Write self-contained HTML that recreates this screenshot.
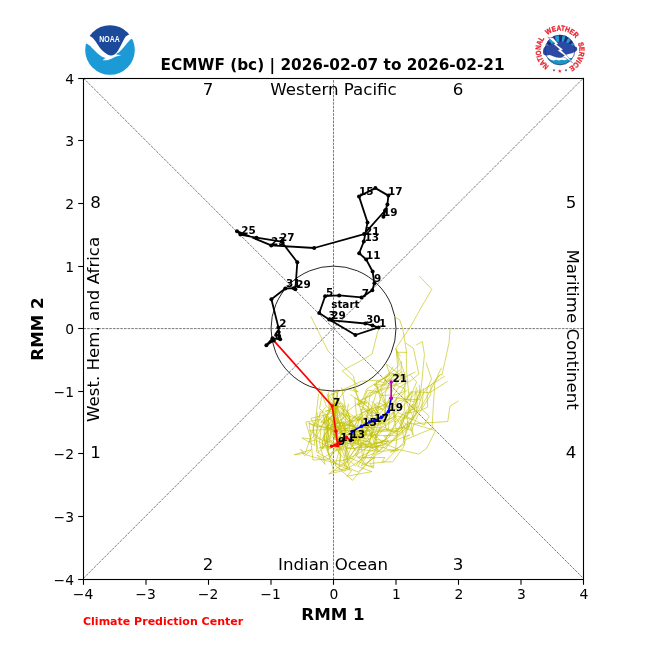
<!DOCTYPE html>
<html lang="en"><head><meta charset="utf-8"><title>ECMWF (bc) RMM phase diagram</title>
<style>html,body{margin:0;padding:0;background:#fff}body{width:650px;height:650px;overflow:hidden}svg{display:block}text{font-family:"DejaVu Sans","Liberation Sans",sans-serif;fill:#000}.b{font-weight:bold}.t10{font-size:13.89px}.t12{font-size:16.67px}.l8{font-size:10.42px;font-weight:bold}</style></head><body>
<svg width="650" height="650" viewBox="0 0 650 650">
<rect width="650" height="650" fill="#fff"/>
<g stroke="#747474" stroke-width="0.95" stroke-dasharray="2.6 1.08" fill="none">
<line x1="83.5" y1="328.6" x2="583.5" y2="328.6"/>
<line x1="333.5" y1="579.5" x2="333.5" y2="78.5"/>
<line x1="83.5" y1="578.3" x2="583.5" y2="78"/>
<line x1="83.5" y1="78.2" x2="583.5" y2="578.5"/>
</g>
<circle cx="333.5" cy="328.6" r="62.5" fill="none" stroke="#000" stroke-width="0.85"/>
<g fill="none" stroke="#bfbf00" stroke-width="0.6" stroke-linejoin="round">
<polyline points="353.48,388.33 364.06,409.02 374.3,419.48 367.41,406.64 360.23,400.21 370.94,395.77 378.52,387.82 374.08,385.24 387.09,376.48 399.34,365.12 395.89,348.2 410.75,326.17 420.37,308.96 431.81,289.31 419.3,276"/>
<polyline points="332.88,402.01 351.3,424.12 359.36,446.15 365.42,445.2 372.21,447.46 382.94,445.22 381.74,441.84 374.76,434.71 361.44,433.08 362.27,416.55 356.58,393.62 353.53,376.14 328.11,351.14 319.43,333.74 310.8,316.2"/>
<polyline points="331.25,403.36 340.21,403.19 326.82,422.91 320.85,422.74 332.45,406.36 346.81,388.84 353.31,390.63 358.21,391.9 354.41,389.09 357.41,384.3 342.15,370.92 363.9,358.98 372.08,354.14 377.4,332.94 378.6,330"/>
<polyline points="335.78,397.04 326.87,417.15 316,437.56 326.25,441.83 328.42,418.75 337.51,422.38 334.72,425.06 331.21,424.48 346.86,422.26 357.97,414.79 361.69,413.57 361.36,411.42 366.5,397 381.98,390.21 403.56,381.9"/>
<polyline points="332.91,404.77 334.68,425.85 322.66,449.03 322.2,440.07 309.7,430.5 329.7,429.15 350.26,430.15 350.32,432.47 370.86,430.58 373.79,421.62 389.83,418.82 394.32,417.42 402.96,405.82 418.09,390.49 416.98,389.81"/>
<polyline points="338.2,403.98 329.76,429.33 331.9,435.32 326.45,442.11 323.84,435.38 332.42,442.26 333.61,442.42 336.85,451.11 348.6,445.13 362.65,442.95 377.03,450.82 375.88,438.22 387.15,424.6 395.43,419.79 393.41,411.75"/>
<polyline points="321.37,425.62 319.47,442.73 325.12,464.42 316.99,455.03 322.91,458.01 332.67,451.92 348.96,442.95 356.71,442.96 371.37,423.76 395.29,411.36 406.3,416.34 424.14,424.99 429.2,416.12 421.57,409.15 423.81,387.93"/>
<polyline points="346.25,409.22 361.44,443.59 356.88,453.31 355.38,454.38 367.17,465.59 373.03,466.53 369.56,463.56 384.57,462.03 403.18,443.05 408.02,422.53 413.36,424 423.65,423.02 447.78,421.52 449.96,406.27 458.51,400.85"/>
<polyline points="322.39,411.12 327.22,431.25 322.24,438.63 325.62,441.14 337.79,444.65 354.8,439.72 369.07,441.96 378.82,450.78 374.08,443.17 383.46,443.17 398.13,449.31 418.73,454.06 426.69,448.2 435.6,430.54 413.42,424.01"/>
<polyline points="338.08,390.67 332.74,424.28 345.83,433.6 344.99,427.83 346.41,424.15 356.97,427.87 349.28,424 359.41,416.16 365.36,428.14 366.79,419.28 378.78,425.4 378.63,420.74 389.57,413.08 382.1,393.91 389.39,387.43"/>
<polyline points="322.59,391.8 319.53,408.59 326.06,414.37 328.8,437.36 326.11,425.89 322.3,444.35 334.77,439.33 345.29,441.17 356.86,436.49 350.69,440.62 372.44,427.67 380.53,423.94 396.15,415.22 389.39,406.5 381.58,400.71"/>
<polyline points="350.21,394.44 369.86,408.3 365.56,423.71 356.43,415.63 354.91,397.75 360.14,401.13 367.06,402.82 357.18,404.6 366.28,400.86 365.4,399.44 364.45,400.07 368.99,392.83 377.77,391.62 392.91,377.13 402.54,371.43"/>
<polyline points="337.53,392.66 337.13,424.53 337.13,440.87 336.24,425.22 337.44,426.1 360.03,419.75 342.45,413.75 348.87,421.7 353.18,420.26 366.84,417.07 370.21,393.75 374.7,389.21 386.87,382.91 394.74,373.97 400.09,370"/>
<polyline points="341.65,387.3 345.4,408.19 334.2,424.32 339.89,422.26 353.5,426.48 362.44,416.07 361.01,409.24 371.84,411.07 375.27,413.95 377.9,405.81 380.39,399.65 376.14,381.63 393.88,373.7 386.51,380.54 396.93,378.59"/>
<polyline points="328.29,391.47 329.03,407.64 325.86,422.29 333.72,436.02 338.12,440.62 345.59,445.79 349.49,456.94 356.85,446.89 373.24,447.38 361.52,426.59 381.88,427.96 383.32,426.76 397.27,434.05 393.48,416.72 396.71,397.62"/>
<polyline points="326.42,414.41 344.64,436.43 353.54,440.35 347.57,434.26 357.8,434.15 353.18,443.38 365.71,435.02 389.58,435.69 396.17,420.84 395.11,422.02 405.23,412.48 407.87,413.26 412.78,390.85 416.62,382.06 409.45,374.16"/>
<polyline points="335.89,408.19 333.05,415.41 334.39,438.04 338.73,428.25 341.06,422.25 353.25,437.48 369.52,442.04 375.73,420.68 381.13,395.56 395.28,394.99 404.6,391.35 404.61,388.32 395.41,384.99 401.29,377 395.09,376.1"/>
<polyline points="328.24,398.27 338.02,411.81 345.72,416.06 333.49,424.32 328.66,430.42 337.19,417.7 332.76,429.68 346.53,434.48 359.75,434.22 363.91,429.98 372.05,432.48 370.82,436.86 369.01,429.65 365.55,427.87 369.63,430.35"/>
<polyline points="330.14,404.43 334.61,411.09 340.6,425.63 363.52,426.13 368.57,409.95 357.92,405.09 362.35,400.2 366.73,388.9 389.71,374.47 386.48,364.25 402.56,376.67 397.14,374.14 397.55,364.8 396.3,352.25 407.14,352.4"/>
<polyline points="335.17,422.39 340.77,432.75 338.83,452.6 348.05,463.22 346.52,447.92 378.34,451.4 398.63,450.12 390.37,452.19 404.78,443.86 400.45,420.08 408.73,413.9 420.49,395.12 424.45,354.5 422.34,341.5 416.24,345.09"/>
<polyline points="338.66,399.68 349.44,415.95 349.67,430.05 350.73,436.06 366.42,438.99 372.07,432.54 388.55,429.18 389.66,408.11 399.74,400.5 407.31,399.29 411.79,392.06 404.59,401.67 405.22,379.93 400.93,370.74 401.48,361.23"/>
<polyline points="320.37,410.81 317.48,428.5 315.24,435.92 318.51,452.37 333.41,435.78 342.11,426.5 346.37,428.95 354.91,415.61 358.32,419.96 376.97,402.8 385.41,404.9 376.02,385.43 374.15,384.65 394.27,385.28 389.84,378.93"/>
<polyline points="342.96,404.97 343.93,418.15 332.14,426.65 337.63,434.21 342.91,430.41 354.38,431.03 358.6,432.43 376.34,437.68 369.51,422.46 368.22,418.82 365.56,414.8 373.52,421.71 371.09,408.98 376.94,391.05 388.82,386.26"/>
<polyline points="338.24,401.89 357.7,432.32 366.3,432.51 370.63,417.55 372.79,409.72 376.99,413.15 369.17,413.05 385.02,404.36 385.61,405.85 390.98,399.74 398.32,387.71 411.34,380.15 418.9,374.11 413.43,348.38 405.48,342.86"/>
<polyline points="328.94,401 333.73,407.2 334.85,420.08 339.45,422.36 337.26,432.07 338.02,433.78 351.27,425.99 347.62,411.19 364.75,397.68 367.27,390.04 376.46,391.48 382.72,395.7 380.6,388.18 387.46,375.78 393.07,366.71"/>
<polyline points="328.72,416.58 327.25,449.09 333.52,470.9 348.58,468.06 364.41,457.7 384.88,457.45 382.06,461.92 392.54,461.92 403.43,447.28 405.76,439.33 408.61,438.47 432.04,428.5 433.09,409.37 434.85,382.53 439.25,374.99"/>
<polyline points="318.58,393.65 315.34,422.28 305.4,453.12 294.11,454.8 311.35,449.67 304.61,455.89 300.5,448.98 306.09,454.86 340.96,464.8 358.21,472.03 376.66,454.7 383.26,451.37 408.75,420.58 416.16,414.42 417.65,395.91"/>
<polyline points="335.2,409.44 324.01,437.68 325.97,446.91 339.46,446.51 343.95,435.93 358.52,444.92 374.33,444.31 374.26,438.52 381.17,427.83 397.36,416.09 412.98,419.6 418.16,411 424.09,401.86 434.42,382.84 441.42,367.81"/>
<polyline points="340.86,408.22 359.4,432.64 371.73,444.92 361.34,465.94 374.74,457.74 357.69,457.68 375.88,448.97 371.56,435.18 378.62,442.35 395.75,440.21 409.82,434.79 403.59,439.49 413.54,414.26 417.3,397.53 416.35,392.94"/>
<polyline points="325.24,414.38 313.14,426.15 314.84,445.51 301.92,437.99 310.62,438.85 305.77,422.04 320.07,419.55 331.31,429.52 337.14,438.4 344.3,445.48 357.52,427.84 371.3,427.13 371.31,435.25 369.82,433.37 374.14,432.16"/>
<polyline points="324.14,417.5 324.08,437.88 327.26,450.96 329.89,447.94 319.43,447.77 337.63,442.15 342.09,437.08 360.33,429.78 361.92,419.11 362.37,421.53 368.66,415.53 379.3,415.41 374.05,404.79 383.04,410.09 371.42,401.3"/>
<polyline points="332.94,420.98 327.3,451.93 336,464.52 334.04,461.02 344.11,460.29 357.3,454.39 369.73,445.69 384.95,440.58 387.36,435.7 411.02,422.29 413.27,435.5 409.13,425.52 417.64,409.51 422.3,394.84 429.48,385.37"/>
<polyline points="309.1,422.13 311.33,445.13 312.94,460.01 329.31,459.07 339.24,438.92 343.52,437.54 341.07,444.93 350.03,437.27 352.65,439.65 363.46,434.76 366.34,434.17 364.74,431.45 371.6,424.37 386.44,405.58 383.08,406.81"/>
<polyline points="317.3,412.3 316.46,451.81 339.68,465.89 351.63,470.64 346.95,476.24 371.94,471.66 357.58,466.31 371.3,448.3 391.32,441.93 405.03,428.3 401.21,420.53 406.03,417.89 409.65,410.25 420.59,391.43 444.89,376.17"/>
<polyline points="333.25,399.19 339.23,422.56 341.27,429.97 355.57,450.45 343.04,434.47 339.78,428.25 344.54,428.58 347.68,432.99 357.4,435.66 367.96,426.08 374.82,430.17 387.4,429.67 408.86,426.91 403.4,421.89 404.7,415.23"/>
<polyline points="336.23,413.17 334.05,421.37 340.85,449.91 340.06,461.38 347.38,467.19 343.52,459.48 344.49,465.79 355.31,448.45 379.96,431.51 395.79,430.65 402.26,424.41 406.19,411.33 413.06,403.88 413.13,410.16 420.56,389.47"/>
<polyline points="348.54,403.71 344.14,427.2 347.79,444.48 344.63,456.06 355.61,465.9 362.67,457.06 365.22,447.88 365.63,444.39 367.21,448.01 374.77,427.39 377.91,410.17 384.61,407.64 388.72,405.97 400.62,395.97 407.19,390"/>
<polyline points="337.91,409.04 345.27,433.4 346,455.6 351.97,459.08 361.12,444.96 362.6,457.74 378.16,451.74 388.02,440.87 383.74,435.85 398.18,435.09 406.05,428.35 413.56,418.22 405.07,399.38 420.04,399.76 419.24,384.74"/>
<polyline points="325.48,406.97 313.16,424.6 314.01,435.95 308.92,441.87 315.66,439.88 331.11,448.64 333.21,444.75 358.48,442.68 359.41,434.68 354.15,442.54 362.57,432.67 363.34,423.89 385.54,420.05 385.05,405.13 391.3,400.7"/>
<polyline points="335.53,412.97 333.84,434.89 339.82,443.04 345.53,460.21 354.73,440.15 364.65,443.54 374.94,433.98 379.53,420.42 387.37,415.06 396.95,397.38 400.39,393.16 405.26,384.35 405.65,376.6 395.74,348.61 400.48,356.37"/>
<polyline points="331.83,392.61 335.24,408.39 330.5,408.01 329.17,412.77 338.52,407.48 325.22,411.31 336.63,407.63 329.07,395.56 344.89,388.78 361.4,381.22 376.77,380.24 385.14,383.28 385.02,376.24 389.51,372.72 396.61,374.29"/>
<polyline points="319.29,386.88 326.52,406.56 339.81,414.53 326.48,426.32 344.06,421.62 341.35,428.04 353.41,428.46 360.4,413.97 376.25,406.83 375.57,408.72 383.87,419.9 386.83,430.54 399.64,431.55 402.71,428.15 393.04,412.77"/>
<polyline points="339.05,398.53 332.24,416.14 318.72,427.58 308.75,423.25 315.39,425.36 332.82,429.75 337.04,438.16 357.1,426.74 361.62,412.75 371.2,409.02 383.23,405.45 393.25,397.29 407.16,399.6 414.05,402.02 416.49,387.28"/>
<polyline points="327.02,393.55 330.35,408.55 337.81,406.28 344.62,410.36 365.23,424.1 371.43,424.52 382.67,423.13 384.44,424.46 397.78,406.79 408.78,394.62 406.51,370.49 406.29,350.15 402.91,329.75 399.68,319.71 394.13,316.88"/>
<polyline points="342.29,419.09 333.36,441.54 340.39,455.04 338.99,468.61 352.53,480.32 369.27,460.7 374.77,450.83 385.53,438.47 391.91,429.66 399.27,419.7 404.36,410.56 404.49,403.5 410.41,391.79 429.82,392.64 447.62,381.28"/>
<polyline points="334.62,427.6 344.77,451.58 349.93,469.09 328.72,473.96 337.01,468.21 350.98,458.27 373.57,468.15 373.9,454.18 374.97,454.61 383.55,447.26 387.72,449.59 395.51,450.01 397.44,432.08 405.68,412.86 418.27,406.56"/>
<polyline points="333.97,391.24 334.75,424.65 325.99,433.5 329.36,457.32 338.89,447.21 341.42,450.19 362.85,442.63 368.48,426.76 364.3,436.05 361.35,426.6 380.42,422.51 373.96,417.43 385.17,415.15 385.24,393.05 390.63,380.94"/>
<polyline points="329.84,409.77 340.1,424.3 340.07,447.23 335.24,465.01 336.06,466.68 344.84,471.27 350.52,461.98 355.9,456.96 362.16,444.28 388.88,441.37 375.89,439.39 383.95,414.04 388.34,400.66 396.55,381.22 415.46,371.82"/>
<polyline points="366.62,400.9 383.81,422.8 375.49,435.16 375.89,444.11 386.18,439.29 400.29,428.02 401.74,427.27 411.5,430.34 417.47,415.92 430.71,394.68 431.02,385.04 440.78,374.11 441.85,375.41 449.05,342.71 450.22,327.93"/>
<polyline points="337.21,388.97 335.24,417.05 323.49,421.71 325.77,416.17 328.58,418.73 336.79,412.18 310.96,418.27 313,422.71 324.46,427.61 335.24,427.98 349.4,424.33 342.26,417.09 336.23,406.25 346.08,407.03 341.28,402.61"/>
<polyline points="325.59,416.38 331.61,428.34 336.85,442.16 347.8,448.75 360.82,447.31 380.25,445.41 375.7,446.79 384.22,447.54 408.18,428.7 406.71,413.22 419.57,410.78 427.66,407.14 426.9,389.23 431.55,379.02 425.99,362.43"/>
</g>
<polyline points="273.8,340.6 332.2,406 335.8,431.2 337.7,445.8 331.5,446.2 339.4,442.5 346.5,437.3 350.8,440.4" fill="none" stroke="#ff0000" stroke-width="1.65" stroke-linejoin="round"/>
<circle cx="332.2" cy="406" r="1.75" fill="#ff0000"/>
<circle cx="335.8" cy="431.2" r="1.75" fill="#ff0000"/>
<circle cx="337.7" cy="445.8" r="1.75" fill="#ff0000"/>
<circle cx="331.5" cy="446.2" r="1.75" fill="#ff0000"/>
<circle cx="339.4" cy="442.5" r="1.75" fill="#ff0000"/>
<circle cx="346.5" cy="437.3" r="1.75" fill="#ff0000"/>
<circle cx="350.8" cy="440.4" r="1.75" fill="#ff0000"/>
<polyline points="350.8,440.4 352,431.5 361.5,426.2 369.6,421.9 375,420.3 381.5,417.3 388.5,411.5 391.2,398.2" fill="none" stroke="#0000ff" stroke-width="1.65" stroke-linejoin="round"/>
<circle cx="350.8" cy="440.4" r="1.75" fill="#0000ff"/>
<circle cx="352" cy="431.5" r="1.75" fill="#0000ff"/>
<circle cx="361.5" cy="426.2" r="1.75" fill="#0000ff"/>
<circle cx="369.6" cy="421.9" r="1.75" fill="#0000ff"/>
<circle cx="375" cy="420.3" r="1.75" fill="#0000ff"/>
<circle cx="381.5" cy="417.3" r="1.75" fill="#0000ff"/>
<circle cx="388.5" cy="411.5" r="1.75" fill="#0000ff"/>
<circle cx="391.2" cy="398.2" r="1.75" fill="#0000ff"/>
<polyline points="391.2,398.2 391.2,382" fill="none" stroke="#bf00bf" stroke-width="1.65" stroke-linejoin="round"/>
<circle cx="391.2" cy="398.2" r="1.75" fill="#bf00bf"/>
<circle cx="391.2" cy="382" r="1.75" fill="#bf00bf"/>
<g fill="none" stroke="#000" stroke-width="1.8" stroke-linejoin="round" stroke-linecap="butt">
<polyline points="332,320.3 365.4,323.5 372.5,325.6 378.5,327.4 355.4,335 329.2,319.5 319.2,313.1 325.1,296.2 339.2,295.4 361.5,297.4 372.3,290.3 374.4,283.3 372.6,271.5 366.2,259.5 359.2,253.2 363.8,241.6 367.5,222.4 359,196.4 375.4,188.1 388.4,195.6 387.4,204.4 383.4,216.7 385.1,210.5 364.1,234.1 314.2,248 271.2,245.4 237,231.2 240.4,234.6 256.5,237.7 281.6,241.7 297.3,262.3 295.4,289.3 293.8,288.2 285.3,288.5 271.4,299.3 278.4,327.4 280.2,339.3 272.5,338.3 266.4,345.2 273.8,340.6"/>
</g>
<g fill="#000">
<circle cx="332" cy="320.3" r="2"/>
<circle cx="365.4" cy="323.5" r="2"/>
<circle cx="372.5" cy="325.6" r="2"/>
<circle cx="378.5" cy="327.4" r="2"/>
<circle cx="355.4" cy="335" r="2"/>
<circle cx="329.2" cy="319.5" r="2"/>
<circle cx="319.2" cy="313.1" r="2"/>
<circle cx="325.1" cy="296.2" r="2"/>
<circle cx="339.2" cy="295.4" r="2"/>
<circle cx="361.5" cy="297.4" r="2"/>
<circle cx="372.3" cy="290.3" r="2"/>
<circle cx="374.4" cy="283.3" r="2"/>
<circle cx="372.6" cy="271.5" r="2"/>
<circle cx="366.2" cy="259.5" r="2"/>
<circle cx="359.2" cy="253.2" r="2"/>
<circle cx="363.8" cy="241.6" r="2"/>
<circle cx="367.5" cy="222.4" r="2"/>
<circle cx="359" cy="196.4" r="2"/>
<circle cx="375.4" cy="188.1" r="2"/>
<circle cx="388.4" cy="195.6" r="2"/>
<circle cx="387.4" cy="204.4" r="2"/>
<circle cx="383.4" cy="216.7" r="2"/>
<circle cx="385.1" cy="210.5" r="2"/>
<circle cx="364.1" cy="234.1" r="2"/>
<circle cx="314.2" cy="248" r="2"/>
<circle cx="271.2" cy="245.4" r="2"/>
<circle cx="237" cy="231.2" r="2"/>
<circle cx="240.4" cy="234.6" r="2"/>
<circle cx="256.5" cy="237.7" r="2"/>
<circle cx="281.6" cy="241.7" r="2"/>
<circle cx="297.3" cy="262.3" r="2"/>
<circle cx="295.4" cy="289.3" r="2"/>
<circle cx="293.8" cy="288.2" r="2"/>
<circle cx="285.3" cy="288.5" r="2"/>
<circle cx="271.4" cy="299.3" r="2"/>
<circle cx="278.4" cy="327.4" r="2"/>
<circle cx="280.2" cy="339.3" r="2"/>
<circle cx="272.5" cy="338.3" r="2"/>
<circle cx="266.4" cy="345.2" r="2"/>
<circle cx="273.8" cy="340.6" r="2"/>
</g>
<g class="l8">
<text x="331.3" y="319.2">29</text>
<text x="365.9" y="322.7">30</text>
<text x="379" y="326.8">1</text>
<text x="328.6" y="319">3</text>
<text x="325.9" y="296">5</text>
<text x="361.7" y="297.1">7</text>
<text x="374.1" y="282.2">9</text>
<text x="365.9" y="258.7">11</text>
<text x="364.6" y="241">13</text>
<text x="359" y="194.8">15</text>
<text x="388.1" y="194.5">17</text>
<text x="383.1" y="215.6">19</text>
<text x="364.9" y="234.9">21</text>
<text x="271" y="244.6">23</text>
<text x="241.2" y="233.8">25</text>
<text x="280" y="240.9">27</text>
<text x="296.2" y="287.5">29</text>
<text x="286.1" y="286.9">31</text>
<text x="279.2" y="326.6">2</text>
<text x="273.8" y="337.5">4</text>
<text x="274.6" y="339.2">6</text>
<text x="331.2" y="307.8">start</text>
<text x="333" y="406.1">7</text>
<text x="337.9" y="444.7">9</text>
<text x="340.2" y="440.9">11</text>
<text x="350.6" y="438.2">13</text>
<text x="362.3" y="425.8">15</text>
<text x="374.2" y="422">17</text>
<text x="388.5" y="410.7">19</text>
<text x="392.4" y="382.2">21</text>
</g>
<rect x="83.5" y="78.5" width="500" height="501" fill="none" stroke="#000" stroke-width="1.1"/>
<g stroke="#000" stroke-width="1.1">
<line x1="83.5" y1="579.5" x2="83.5" y2="584.8"/>
<line x1="83.5" y1="579.5" x2="78.2" y2="579.5"/>
<line x1="146" y1="579.5" x2="146" y2="584.8"/>
<line x1="83.5" y1="516.5" x2="78.2" y2="516.5"/>
<line x1="208.5" y1="579.5" x2="208.5" y2="584.8"/>
<line x1="83.5" y1="453.5" x2="78.2" y2="453.5"/>
<line x1="271" y1="579.5" x2="271" y2="584.8"/>
<line x1="83.5" y1="391.5" x2="78.2" y2="391.5"/>
<line x1="333.5" y1="579.5" x2="333.5" y2="584.8"/>
<line x1="83.5" y1="328.5" x2="78.2" y2="328.5"/>
<line x1="396" y1="579.5" x2="396" y2="584.8"/>
<line x1="83.5" y1="266.5" x2="78.2" y2="266.5"/>
<line x1="458.5" y1="579.5" x2="458.5" y2="584.8"/>
<line x1="83.5" y1="203.5" x2="78.2" y2="203.5"/>
<line x1="521" y1="579.5" x2="521" y2="584.8"/>
<line x1="83.5" y1="140.5" x2="78.2" y2="140.5"/>
<line x1="583.5" y1="579.5" x2="583.5" y2="584.8"/>
<line x1="83.5" y1="78.5" x2="78.2" y2="78.5"/>
</g>
<g class="t10">
<text x="83.1" y="598.7" text-anchor="middle">−4</text>
<text x="74" y="584.7" text-anchor="end">−4</text>
<text x="145.6" y="598.7" text-anchor="middle">−3</text>
<text x="74" y="521.7" text-anchor="end">−3</text>
<text x="208.1" y="598.7" text-anchor="middle">−2</text>
<text x="74" y="458.7" text-anchor="end">−2</text>
<text x="270.6" y="598.7" text-anchor="middle">−1</text>
<text x="74" y="396.7" text-anchor="end">−1</text>
<text x="334" y="598.7" text-anchor="middle">0</text>
<text x="74" y="333.7" text-anchor="end">0</text>
<text x="396.5" y="598.7" text-anchor="middle">1</text>
<text x="74" y="271.7" text-anchor="end">1</text>
<text x="459" y="598.7" text-anchor="middle">2</text>
<text x="74" y="208.7" text-anchor="end">2</text>
<text x="521.5" y="598.7" text-anchor="middle">3</text>
<text x="74" y="145.7" text-anchor="end">3</text>
<text x="584" y="598.7" text-anchor="middle">4</text>
<text x="74" y="83.7" text-anchor="end">4</text>
</g>
<text class="b t12" x="333" y="620" text-anchor="middle">RMM 1</text>
<text class="b t12" transform="translate(42.8 329) rotate(-90)" text-anchor="middle">RMM 2</text>
<text class="b" x="332.6" y="70" text-anchor="middle" font-size="15.31">ECMWF (bc) | 2026-02-07 to 2026-02-21</text>
<text class="b" x="83" y="624.7" font-size="11.03" style="fill:#ff0000">Climate Prediction Center</text>
<g class="t12" text-anchor="middle">
<text x="208" y="95">7</text>
<text x="458" y="95">6</text>
<text x="95.5" y="208">8</text>
<text x="571" y="208">5</text>
<text x="95.5" y="458">1</text>
<text x="571" y="458">4</text>
<text x="208" y="570">2</text>
<text x="458" y="570">3</text>
<text x="333.5" y="95">Western Pacific</text>
<text x="333" y="570">Indian Ocean</text>
<text transform="translate(99.2 329.4) rotate(-90)">West. Hem. and Africa</text>
<text transform="translate(566.6 329.7) rotate(90)">Maritime Continent</text>
</g>
<g id="noaa">
<clipPath id="nc"><circle cx="110" cy="50" r="24.8"/></clipPath>
<path d="M84 31.5C85 32.25 88.53 34.92 90 36C91.47 37.08 91.8 37 92.8 38C93.8 39 94.8 40.33 96 42C97.2 43.67 98.67 46.33 100 48C101.33 49.67 102.67 50.87 104 52C105.33 53.13 106.8 54.23 108 54.8C109.2 55.37 110.13 55.47 111.2 55.4C112.27 55.33 113.33 55.1 114.4 54.4C115.47 53.7 116.53 52.67 117.6 51.2C118.67 49.73 119.73 47.6 120.8 45.6C121.87 43.6 123.07 40.8 124 39.2C124.93 37.6 125.53 36.8 126.4 36C127.27 35.2 127.6 35.23 129.2 34.4C130.8 33.57 134.87 31.57 136 31L140 20L80 20Z" fill="#1a4a99" clip-path="url(#nc)"/>
<path d="M80 40.5C81.03 41.02 84.6 42.75 86.2 43.6C87.8 44.45 88.37 44.6 89.6 45.6C90.83 46.6 92.27 48.27 93.6 49.6C94.93 50.93 96.27 52.47 97.6 53.6C98.93 54.73 100.27 55.7 101.6 56.4C102.93 57.1 104.93 57.57 105.6 57.8L102.6 60.3C103.5 60.25 106.43 60.28 108 60C109.57 59.72 110.67 59.17 112 58.6C113.33 58.03 114.4 57.2 116 56.6C117.6 56 120.67 55.27 121.6 55L117.6 54.7L116 54.2C116.53 53.83 118.13 52.9 119.2 52C120.27 51.1 121.2 50.13 122.4 48.8C123.6 47.47 125.2 45.4 126.4 44C127.6 42.6 128.7 41.27 129.6 40.4C130.5 39.53 130.4 39.7 131.8 38.8C133.2 37.9 136.97 35.63 138 35L140 80L80 80Z" fill="#1b9ad6" clip-path="url(#nc)"/>
<text x="109.5" y="42.1" text-anchor="middle" textLength="20.4" lengthAdjust="spacingAndGlyphs" style="font-family:'Liberation Sans',sans-serif;font-weight:bold;font-size:8.6px;fill:#fff">NOAA</text>
</g>
<g id="nws">
<clipPath id="wc"><circle cx="560" cy="50" r="14.9"/></clipPath>
<circle cx="560" cy="50" r="14.9" fill="#fff"/>
<g clip-path="url(#wc)">
<rect x="544" y="34" width="32" height="16" fill="#1f9fd2"/>
<polygon points="560,54 530.83,47 533.15,40.61" fill="#232c78"/>
<polygon points="560,54 536.36,35.53 540.72,31.02" fill="#232c78"/>
<polygon points="560,54 546.15,27.39 551.48,25.24" fill="#232c78"/>
<polygon points="560,54 558.17,24.06 563.92,24.26" fill="#232c78"/>
<polygon points="560,54 568.77,25.31 573.62,27.27" fill="#232c78"/>
<polygon points="560,54 578.26,30.2 582.47,34.12" fill="#232c78"/>
<polygon points="560,54 585.72,38.55 588.37,44.23" fill="#232c78"/>
<rect x="544" y="58" width="32" height="8" fill="#1a97c6"/>
<polygon points="544.34,56.26 547.85,57.61 550.77,59.71 553.69,60.53 556.32,59.71 558.95,60.53 561.88,59.71 564.8,60.3 567.72,59.01 571.23,57.26 575.91,55.09 575.91,51.29 544.34,51.29" fill="#fff"/>
</g>
<path d="M543.29 49.54C543.5 48.68 543.72 47.98 544.34 47.32C544.95 46.65 545.9 46.01 546.97 45.56C548.04 45.12 549.65 45.04 550.77 44.63C551.89 44.22 552.82 43.56 553.69 43.11C554.57 42.66 555.15 42.15 556.03 41.94C556.91 41.72 557.88 41.89 558.95 41.82C560.03 41.75 561.2 41.43 562.46 41.53C563.73 41.63 565.29 41.97 566.55 42.41C567.82 42.84 568.89 43.6 570.06 44.16C571.23 44.73 572.5 45.31 573.57 45.8C574.64 46.28 575.89 46.56 576.49 47.08C577.1 47.61 577.19 48.33 577.19 48.95C577.19 49.58 576.94 50.3 576.49 50.82C576.04 51.35 575.38 51.66 574.51 52.11C573.63 52.56 572.36 53.16 571.23 53.51C570.1 53.86 568.75 53.92 567.72 54.22C566.7 54.51 565.97 54.78 565.09 55.27C564.22 55.76 563.39 56.73 562.46 57.14C561.54 57.55 560.51 57.65 559.54 57.72C558.56 57.8 557.59 57.8 556.62 57.61C555.64 57.41 554.76 56.96 553.69 56.55C552.62 56.14 551.35 55.33 550.18 55.15C549.02 54.98 547.71 55.56 546.68 55.5C545.64 55.44 544.59 55.31 543.99 54.8C543.38 54.29 543.17 53.34 543.05 52.46C542.94 51.58 543.07 50.4 543.29 49.54Z" fill="#2a4aa5"/>
<circle cx="560" cy="50" r="14.9" fill="none" stroke="#232c78" stroke-width="0.7"/>
<polygon points="547.73,37.26 553.22,37.85 558.49,43.98 556.62,44.45 563.28,49.54 561.41,50.3 567.72,56.55 572.52,62.87 565.38,57.84 562.58,56.79 564.57,55.5 557.55,50.59 559.54,49.3 553.34,44.04 554.98,43.46" fill="#fff" stroke="#232c78" stroke-width="0.35" stroke-linejoin="miter"/>
<path id="wp" fill="none" d="M553.4 68.14A19.3 19.3 0 0 1 566.6 31.86A19.3 19.3 0 0 1 553.4 68.14A19.3 19.3 0 0 1 566.6 31.86"/>
<text style="font-family:'Liberation Sans',sans-serif;font-weight:bold;font-size:7.4px;fill:#e8202a;stroke:#e8202a;stroke-width:0.3px" textLength="30.99" lengthAdjust="spacingAndGlyphs"><textPath href="#wp" startOffset="4.72" textLength="30.99" lengthAdjust="spacingAndGlyphs">NATIONAL</textPath></text>
<text style="font-family:'Liberation Sans',sans-serif;font-weight:bold;font-size:7.4px;fill:#e8202a;stroke:#e8202a;stroke-width:0.3px" textLength="31.33" lengthAdjust="spacingAndGlyphs"><textPath href="#wp" startOffset="40.08" textLength="31.33" lengthAdjust="spacingAndGlyphs">WEATHER</textPath></text>
<text style="font-family:'Liberation Sans',sans-serif;font-weight:bold;font-size:7.4px;fill:#e8202a;stroke:#e8202a;stroke-width:0.3px" textLength="28.3" lengthAdjust="spacingAndGlyphs"><textPath href="#wp" startOffset="76.46" textLength="28.3" lengthAdjust="spacingAndGlyphs">SERVICE</textPath></text>
<polygon points="554,68.7 554.37,69.69 555.43,69.74 554.6,70.39 554.88,71.41 554,70.83 553.12,71.41 553.4,70.39 552.57,69.74 553.63,69.69" fill="#2b3a8f"/>
<polygon points="559.8,69.2 560.29,70.52 561.7,70.58 560.6,71.46 560.98,72.82 559.8,72.04 558.62,72.82 559,71.46 557.9,70.58 559.31,70.52" fill="#e8202a"/>
<polygon points="566,68.7 566.37,69.69 567.43,69.74 566.6,70.39 566.88,71.41 566,70.83 565.12,71.41 565.4,70.39 564.57,69.74 565.63,69.69" fill="#2b3a8f"/>
</g>
</svg></body></html>
